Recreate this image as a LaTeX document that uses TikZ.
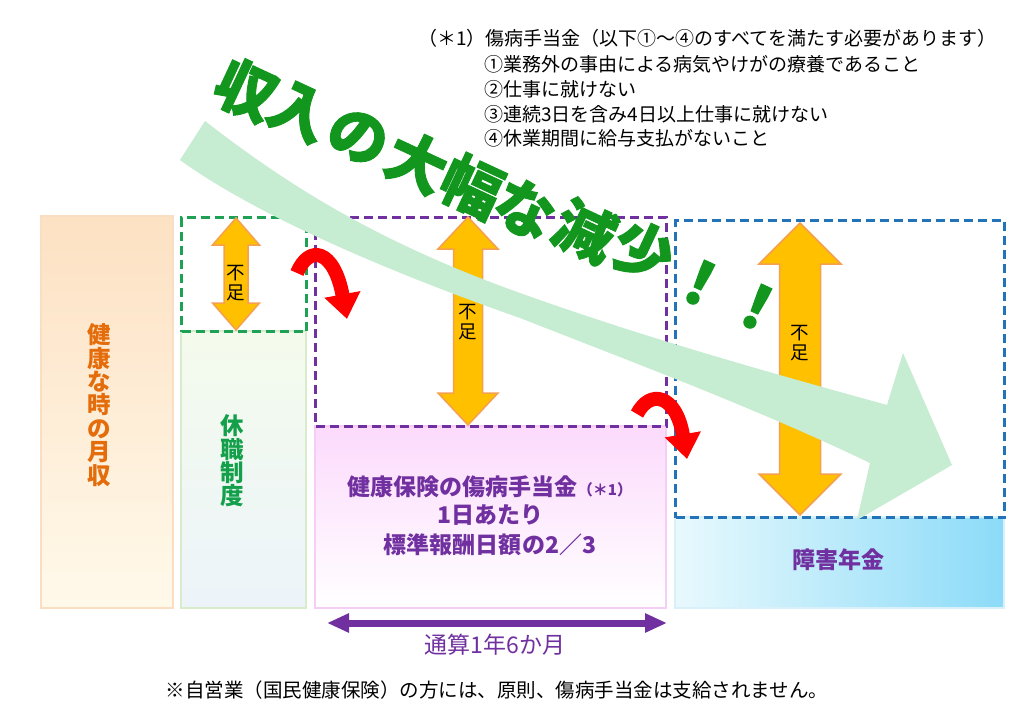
\documentclass[tikz,border=0pt]{standalone}
\usepackage{fontspec}
\setmainfont{Noto Sans CJK JP}
\newfontfamily\heavyjp{Noto Sans CJK JP}[BoldFeatures={FakeBold=1.5}]
\usetikzlibrary{arrows.meta}
\definecolor{orangetext}{RGB}{228,108,10}
\definecolor{boxAtop}{RGB}{253,225,195}
\definecolor{boxAbot}{RGB}{255,249,234}
\definecolor{boxAedge}{RGB}{250,222,196}
\definecolor{greentext}{RGB}{20,160,75}
\definecolor{boxBtop}{RGB}{244,251,236}
\definecolor{boxBbot}{RGB}{236,244,250}
\definecolor{boxBedge}{RGB}{216,236,204}
\definecolor{greendash}{RGB}{30,160,85}
\definecolor{violet}{RGB}{112,48,160}
\definecolor{pinktop}{RGB}{252,218,252}
\definecolor{pinkedge}{RGB}{245,205,245}
\definecolor{bluedash}{RGB}{35,115,185}
\definecolor{blueleft}{RGB}{232,249,253}
\definecolor{blueright}{RGB}{140,219,248}
\definecolor{blueedge}{RGB}{215,240,250}
\definecolor{arrorange}{RGB}{255,192,0}
\definecolor{arredge}{RGB}{245,160,80}
\definecolor{bandgreen}{RGB}{198,236,210}
\definecolor{biggreen}{RGB}{18,150,30}
\newcommand{\dblarrow}[6]{%
 \filldraw[arr] (#1,#2) -- (#1+#4,#2+#5) -- (#1+#6,#2+#5) -- (#1+#6,#3-#5) -- (#1+#4,#3-#5) -- (#1,#3) -- (#1-#4,#3-#5) -- (#1-#6,#3-#5) -- (#1-#6,#2+#5) -- (#1-#4,#2+#5) -- cycle;}
\tikzset{
  solidbox/.style={line width=2pt, anchor=north west, inner sep=0pt},
  dashbox/.style={line width=3pt, dash pattern=on 9pt off 5pt, anchor=north west, inner sep=0pt},
  arr/.style={fill=arrorange, draw=arredge, line width=1.5pt, line join=miter},
  fusoku/.style={font=\fontsize{18.5}{20}\selectfont, align=center, inner sep=0pt, text=black},
  vtext/.style={align=center, inner sep=0pt, font=\bfseries\fontsize{23.5}{23.4}\selectfont},
  bigtxt/.style={text=biggreen, font=\heavyjp\bfseries\fontsize{60}{60}\selectfont, inner sep=0pt, rotate=-25},
  redarr/.style={draw=red, line width=14pt, -{Triangle[width=35pt,length=25pt]}},
  note/.style={font=\fontsize{19}{24}\selectfont, inner sep=0pt, anchor=west},
  ptext/.style={text=violet, font=\bfseries\fontsize{23}{29}\selectfont, inner sep=0pt},
}
\begin{document}
\begin{tikzpicture}[x=1pt,y=-1pt]
\fill[white] (0,0) rectangle (1024,714);
\useasboundingbox (0,0) rectangle (1024,714);
% boxes
\node[solidbox, draw=boxAedge, top color=boxAtop, bottom color=boxAbot, minimum width=132pt, minimum height=392pt] (b1) at (40,215) {};
\node[solidbox, draw=boxBedge, top color=boxBtop, bottom color=boxBbot, minimum width=125pt, minimum height=277pt] (b2) at (180,330) {};
\node[dashbox, draw=greendash, minimum width=125pt, minimum height=114pt] (d2) at (180,216) {};
\node[solidbox, draw=pinkedge, top color=pinktop, bottom color=white, minimum width=351pt, minimum height=182pt] (b3) at (314,425) {};
\node[dashbox, draw=violet, minimum width=351pt, minimum height=209pt] (d3) at (314,216) {};
\node[solidbox, draw=blueedge, left color=blueleft, right color=blueright, minimum width=329pt, minimum height=91pt] (b4) at (674,516) {};
\node[dashbox, draw=bluedash, minimum width=329pt, minimum height=297pt] (d4) at (674,219) {};
% box texts
\node[vtext, text=orangetext] (t1) at (99,405) {健\\康\\な\\時\\の\\月\\収};
\node[vtext, text=greentext] (t2) at (232,461) {休\\職\\制\\度};
\node[ptext] (t3a) at (490,487) {健康保険の傷病手当金{\fontsize{15}{15}\selectfont （＊1）}};
\node[ptext] (t3b) at (490,515) {1日あたり};
\node[ptext] (t3c) at (490,545) {標準報酬日額の2／3};
\node[ptext] (t4) at (838,560) {障害年金};
% orange double arrows
\dblarrow{236}{218}{330}{23.5}{27}{12}
\node[fusoku] (f1) at (236,283) {不\\足};
\dblarrow{468}{217}{425}{30}{32}{14.5}
\node[fusoku] (f2) at (468,322) {不\\足};
\dblarrow{800}{223}{515}{41}{41}{20.5}
\node[fusoku] (f3) at (800,343) {不\\足};
% big band arrow
\fill[bandgreen] (205,121) .. controls (290,187) and (380,243) .. (520,293) .. controls (640,336) and (760,370) .. (887,405) -- (903,353) -- (952,465) -- (857,520) -- (870,463) .. controls (760,410) and (640,365) .. (520,318) .. controls (400,276) and (260,218) .. (180,160) -- cycle;
% big text
\foreach \c/\x/\y [count=\i] in {収/246/90, 入/299/112, の/358/137, 大/417/162, 幅/472/186, な/525/209, 減/585/231, 少/643/251, ！/700/283, ！/757/307}
  {\node[bigtxt] (big\i) at (\x,\y) {\c};}
% red curved arrows
\coordinate (r1s) at (297,273);
\coordinate (r1e) at (347,319);
\draw[redarr] (r1s) .. controls (309,244) and (334,249) .. (r1e);
\coordinate (r2s) at (637,414);
\coordinate (r2e) at (687,459);
\draw[redarr] (r2s) .. controls (650,389) and (676,394) .. (r2e);
% period arrow
\coordinate (pa) at (327,623);
\coordinate (pb) at (667,623);
\draw[violet, line width=7pt, {Triangle[width=18pt,length=22pt]}-{Triangle[width=18pt,length=22pt]}] (pa) -- (pb);
\node[text=violet, font=\fontsize{23}{23}\selectfont, inner sep=0pt] (t5) at (495,645) {通算1年6か月};
% notes
\node[note] (n0) at (418,38) {（＊1）傷病手当金（以下①～④のすべてを満たす必要があります）};
\node[note] (n1) at (484,64) {①業務外の事由による病気やけがの療養であること};
\node[note] (n2) at (484,89) {②仕事に就けない};
\node[note] (n3) at (484,114) {③連続3日を含み4日以上仕事に就けない};
\node[note] (n4) at (484,138) {④休業期間に給与支払がないこと};
\node[font=\fontsize{19.5}{20}\selectfont, inner sep=0pt] (foot) at (497,690) {※自営業（国民健康保険）の方には、原則、傷病手当金は支給されません。};
\end{tikzpicture}
\end{document}
